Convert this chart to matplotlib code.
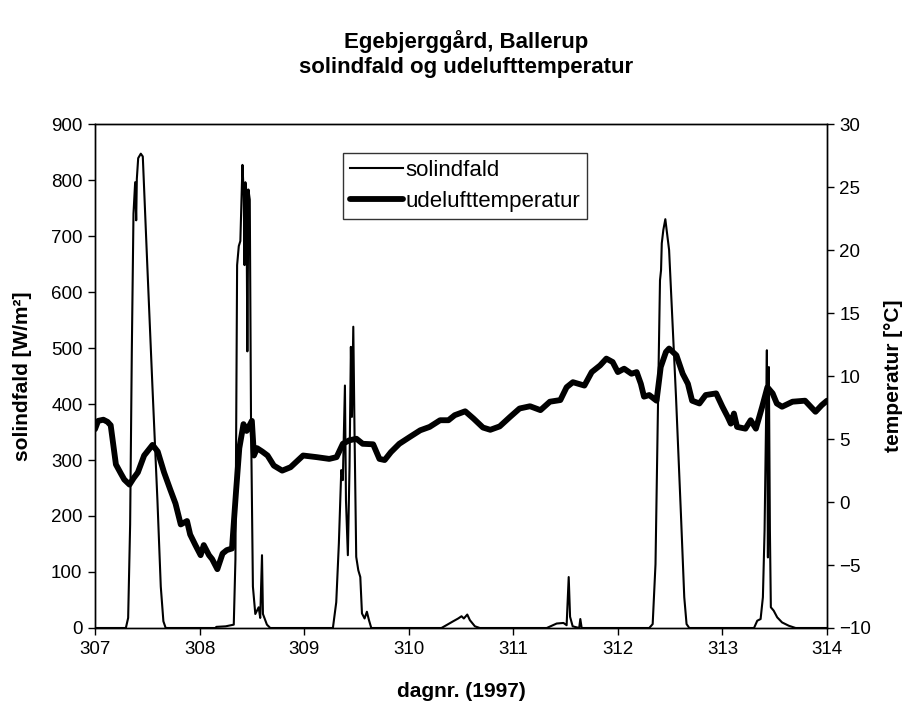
import matplotlib
matplotlib.use("Agg")
import matplotlib.pyplot as plt
import numpy as np

plt.rcParams['font.family'] = ['Liberation Sans', 'DejaVu Sans']

# ---------------- data ----------------
# solar irradiance (W/m2) per day
sol_d307 = [307.00, 307.295, 307.317, 307.336, 307.352, 307.368, 307.384, 307.394, 307.40, 307.413,
            307.438, 307.457, 307.50, 307.549, 307.597, 307.629, 307.654, 307.676]
sol_v307 = [0, 0, 18, 185, 494, 740, 796, 728, 802, 839, 847, 842, 648, 432, 228, 74, 12, 0]
sol_d308 = [308.152, 308.16, 308.25, 308.327, 308.343, 308.359, 308.375, 308.39, 308.41, 308.422,
            308.43, 308.438, 308.448, 308.457, 308.467, 308.48, 308.492, 308.51, 308.533, 308.565,
            308.58, 308.597, 308.606, 308.644, 308.676]
sol_v308 = [0, 2, 3, 6, 123, 648, 682, 691, 827, 777, 648, 796, 780, 494, 783, 765, 370, 74, 25, 37,
            18, 130, 25, 6, 0]
sol_d309 = [309.275, 309.307, 309.332, 309.355, 309.37, 309.39, 309.40, 309.418, 309.434, 309.447,
            309.457, 309.47, 309.482, 309.498, 309.518, 309.537, 309.553, 309.578, 309.60, 309.62, 309.642]
sol_v309 = [0, 46, 151, 282, 264, 433, 228, 130, 288, 502, 377, 538, 347, 127, 103, 91, 26, 17, 29, 14, 0]
sol_d310 = [310.313, 310.36, 310.425, 310.473, 310.505, 310.527, 310.56, 310.585, 310.633, 310.68]
sol_v310 = [0, 5, 12, 17, 21, 17, 24, 14, 3, 0]
sol_d311 = [311.32, 311.415, 311.48, 311.51, 311.53, 311.543, 311.568, 311.63, 311.641, 311.654]
sol_v311 = [0, 8, 9, 5, 91, 20, 3, 0, 16, 0]
sol_d312 = [312.30, 312.333, 312.36, 312.375, 312.39, 312.403, 312.413, 312.42, 312.435, 312.454,
            312.467, 312.49, 312.556, 312.603, 312.635, 312.657, 312.683]
sol_v312 = [0, 7, 114, 293, 472, 621, 639, 687, 711, 730, 710, 675, 413, 204, 55, 7, 0]
sol_d313 = [313.302, 313.333, 313.365, 313.387, 313.403, 313.416, 313.425, 313.435, 313.444, 313.454,
            313.463, 313.49, 313.524, 313.57, 313.635, 313.70, 314.00]
sol_v313 = [0, 13, 16, 55, 174, 353, 496, 126, 466, 174, 37, 31, 19, 10, 4, 0, 0]

# outdoor temperature (deg C)
tmp_d_a = [307.00, 307.03, 307.08, 307.12, 307.15, 307.20, 307.25, 307.28, 307.33, 307.37,
           307.41, 307.47, 307.55, 307.60, 307.66, 307.72, 307.77, 307.82, 307.88, 307.91,
           307.96, 308.01, 308.04, 308.09, 308.12, 308.17, 308.22, 308.26, 308.31, 308.35,
           308.38, 308.42, 308.45, 308.50, 308.52, 308.55, 308.60, 308.65, 308.71, 308.79,
           308.87, 308.99, 309.12, 309.24, 309.31, 309.37, 309.43, 309.50, 309.56, 309.66]
tmp_v_a = [5.78, 6.44, 6.53, 6.36, 6.09, 2.98, 2.22, 1.78, 1.38, 1.90,
           2.35, 3.69, 4.53, 4.00, 2.36, 0.98, -0.13, -1.78, -1.51, -2.58,
           -3.42, -4.22, -3.42, -4.22, -4.53, -5.33, -4.09, -3.82, -3.69, 0.98,
           4.27, 6.18, 5.64, 6.44, 3.69, 4.27, 4.00, 3.69, 2.89, 2.49,
           2.76, 3.69, 3.56, 3.42, 3.56, 4.62, 4.89, 5.02, 4.62, 4.58]
tmp_d_b = [309.72, 309.77, 309.83, 309.91, 310.01, 310.11, 310.20, 310.30, 310.38, 310.44,
           310.54, 310.62, 310.71, 310.78, 310.87, 310.97, 311.06, 311.16, 311.26, 311.35,
           311.45, 311.51, 311.57, 311.68, 311.75, 311.83, 311.89, 311.95, 312.00, 312.06,
           312.13, 312.18, 312.22, 312.25, 312.30, 312.37, 312.41, 312.46, 312.49, 312.56]
tmp_v_b = [3.42, 3.33, 3.96, 4.62, 5.16, 5.69, 5.96, 6.49, 6.49, 6.89,
           7.20, 6.62, 5.91, 5.73, 6.00, 6.76, 7.42, 7.60, 7.29, 7.96,
           8.09, 9.11, 9.51, 9.24, 10.31, 10.84, 11.38, 11.11, 10.31, 10.58,
           10.18, 10.31, 9.38, 8.36, 8.49, 8.04, 10.71, 11.91, 12.18, 11.64]
tmp_d_c = [312.62, 312.67, 312.71, 312.78, 312.84, 312.94, 313.00, 313.05, 313.08, 313.11,
           313.14, 313.22, 313.27, 313.32, 313.38, 313.43, 313.48, 313.52, 313.57, 313.67,
           313.79, 313.89, 313.95, 314.00]
tmp_v_c = [10.18, 9.38, 8.04, 7.82, 8.49, 8.62, 7.56, 6.76, 6.22, 7.02,
           5.96, 5.82, 6.49, 5.82, 7.56, 9.11, 8.62, 7.82, 7.56, 7.96,
           8.04, 7.16, 7.69, 8.04]

x_ticks = [307, 308, 309, 310, 311, 312, 313, 314]
sol_ticks = [0, 100, 200, 300, 400, 500, 600, 700, 800, 900]
tmp_ticks = [-10, -5, 0, 5, 10, 15, 20, 25, 30]

sol_day = sol_d307 + sol_d308 + sol_d309 + sol_d310 + sol_d311 + sol_d312 + sol_d313
sol_val = sol_v307 + sol_v308 + sol_v309 + sol_v310 + sol_v311 + sol_v312 + sol_v313
tmp_day = tmp_d_a + tmp_d_b + tmp_d_c
tmp_val = tmp_v_a + tmp_v_b + tmp_v_c

# ---------------- figure ----------------
fig = plt.figure(figsize=(9.07, 7.06), dpi=100)
ax = fig.add_axes([95/907, 1-628/706, 732/907, 504/706])
ax2 = ax.twinx()

l1, = ax.plot(sol_day, sol_val, color='black', lw=1.5, label='solindfald')
l2, = ax2.plot(tmp_day, tmp_val, color='black', lw=4.2, solid_joinstyle='round',
               solid_capstyle='round', label='udelufttemperatur')

ax.set_xlim(307, 314)
ax.set_ylim(0, 900)
ax2.set_ylim(-10, 30)
ax.set_xticks(x_ticks)
ax.set_yticks(sol_ticks)
ax2.set_yticks(tmp_ticks)

for a in (ax, ax2):
    for s in a.spines.values():
        s.set_linewidth(1.0)
        s.set_color('black')
    a.tick_params(direction='out', length=5, width=1.0, labelsize=13.5, colors='black', pad=4)

ax.set_xlabel('dagnr. (1997)', fontsize=15, fontweight='bold')
ax.set_ylabel('solindfald [W/m²]', fontsize=15, fontweight='bold')
ax2.set_ylabel('temperatur [°C]', fontsize=15, fontweight='bold')
ax.xaxis.set_label_coords(0.5, -0.107)
ax.yaxis.set_label_coords(-0.0997, 0.5)
ax2.yaxis.set_label_coords(1.0915, 0.5)
ax2.yaxis.label.set_verticalalignment('center')
ax.yaxis.label.set_verticalalignment('center')

fig.text(466/907, 1-42/706, 'Egebjerggård, Ballerup', ha='center', va='center',
         fontsize=16, fontweight='bold')
fig.text(466/907, 1-68/706, 'solindfald og udelufttemperatur', ha='center', va='center',
         fontsize=16, fontweight='bold')

leg = ax2.legend([l1, l2], ['solindfald', 'udelufttemperatur'], loc='upper left',
                 bbox_to_anchor=(0.339, 0.942), borderaxespad=0, fontsize=16,
                 frameon=True, fancybox=False, handlelength=2.4, handletextpad=0.1,
                 borderpad=0.3, labelspacing=0.45)
leg.get_frame().set_edgecolor('black')
leg.get_frame().set_linewidth(1.0)

fig.savefig('out.png', dpi=100)
